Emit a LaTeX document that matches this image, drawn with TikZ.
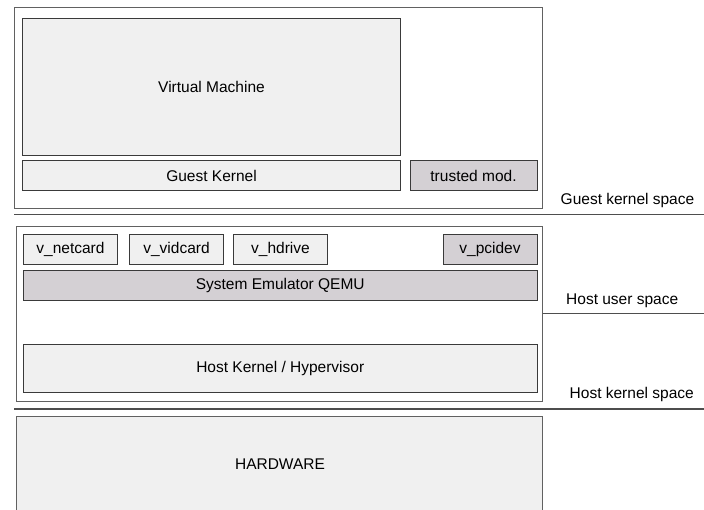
\documentclass[tikz,border=0pt]{standalone}
\usepackage{fontspec}
\setmainfont{Liberation Sans}
\definecolor{lightfill}{HTML}{F0F0F0}
\definecolor{darkfill}{HTML}{D4D0D4}
\definecolor{edge}{HTML}{3A3A3A}
\tikzset{
  box/.style={draw=edge, line width=0.9pt, inner sep=0pt, outer sep=0pt, anchor=north west, font=\fontsize{15.5}{18}\selectfont},
  lbox/.style={box, fill=lightfill},
  dbox/.style={box, fill=darkfill},
  frame/.style={box, draw=edge!80, fill=white},
  sep/.style={draw=edge!90, line width=1.1pt},
  lab/.style={anchor=west, inner sep=0pt, font=\fontsize{15.5}{18}\selectfont}
}
\begin{document}
\begin{tikzpicture}[x=1pt,y=-1pt]
\useasboundingbox (0,0) rectangle (704,509);
\begin{scope}
\clip (0,0) rectangle (704,509);
% guest frame
\node[frame, minimum width=528, minimum height=201] (guest) at (14,7) {};
\node[lbox, minimum width=378, minimum height=137] (vm) at (22.5,18) {Virtual Machine};
\node[lbox, minimum width=378, minimum height=30] (gk) at (22.5,160.5) {Guest Kernel};
\node[dbox, minimum width=127, minimum height=30] (tm) at (410,160.5) {trusted mod.};
\node[lab] (gks) at (560.5,200.5) {Guest kernel space};
\coordinate (g1) at (14,214.5);
\coordinate (g2) at (704,214.5);
\draw[sep] (g1) -- (g2);
% host frame
\node[frame, minimum width=526, minimum height=175] (host) at (16.5,226) {};
\node[lbox, minimum width=94, minimum height=30] (net) at (23.5,234.5) {v\_netcard};
\node[lbox, minimum width=94, minimum height=30] (vid) at (129.5,234.5) {v\_vidcard};
\node[lbox, minimum width=94, minimum height=30] (hd) at (233.5,234.5) {v\_hdrive};
\node[dbox, minimum width=94, minimum height=30] (pci) at (443,234.5) {v\_pcidev};
\node[dbox, minimum width=513.5, minimum height=30] (qemu) at (23.5,270.5) {System Emulator QEMU};
\node[lbox, minimum width=513.5, minimum height=48] (hk) at (23.5,344) {Host Kernel / Hypervisor};
\node[lab] (hus) at (566,301) {Host user space};
\coordinate (u2) at (704,313);
\draw[sep, line width=0.8pt] (host.east |- u2) -- (u2);
\node[lab] (hks) at (569.5,394) {Host kernel space};
\coordinate (k1) at (14,409);
\coordinate (k2) at (704,409);
\draw[sep] (k1) -- (k2);
% hardware
\node[lbox, draw=edge!80, minimum width=526, minimum height=110] (hw) at (16.5,416.5) {};
\node[font=\fontsize{15.5}{18}\selectfont] (hwt) at (280,464) {HARDWARE};
\end{scope}
\end{tikzpicture}
\end{document}
